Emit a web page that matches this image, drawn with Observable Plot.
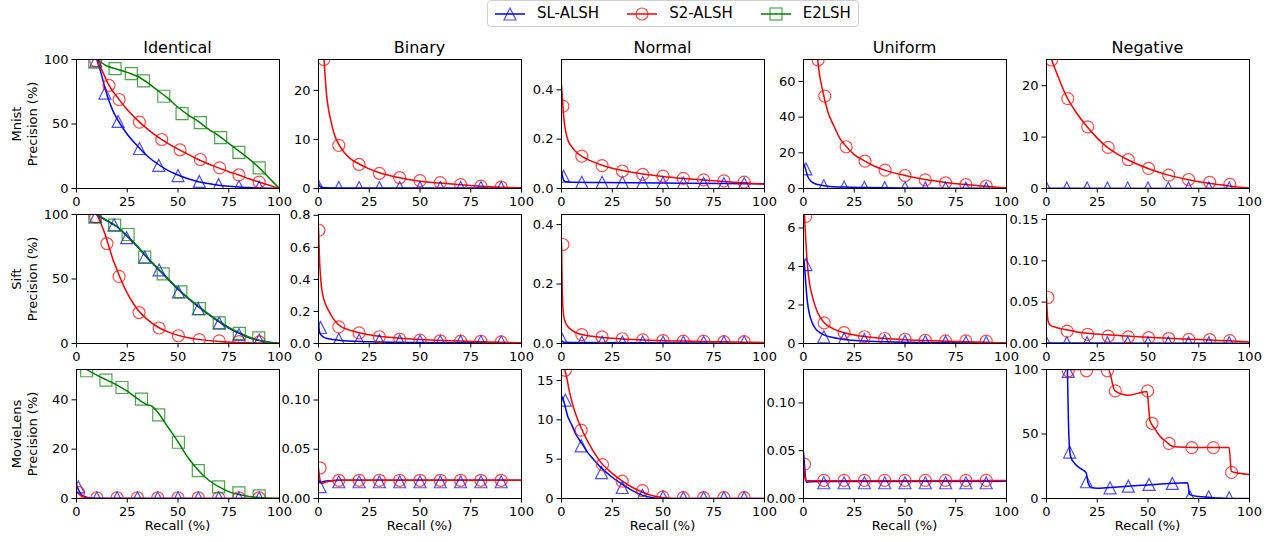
<!DOCTYPE html>
<html><head><meta charset="utf-8">
<script src="https://cdn.jsdelivr.net/npm/d3@7"></script>
<script src="https://cdn.jsdelivr.net/npm/@observablehq/plot@0.6"></script>
<style>
body{margin:0;background:#fff;font-family:"DejaVu Sans",sans-serif;}
#root{position:relative;width:1270px;height:542px;overflow:hidden;background:#fff;}
.t{position:absolute;white-space:nowrap;color:#000;}
.panel{position:absolute;}
</style></head><body><div id="root"></div>
<script>
// ---------- categories / labels ----------
const datasets = ["Mnist", "Sift", "MovieLens"];
const distributions = ["Identical", "Binary", "Normal", "Uniform", "Negative"];
const methods = ["SL-ALSH", "S2-ALSH", "E2LSH"];
const recallTicks = [0, 25, 50, 75, 100];
const xLabel = "Recall (%)";
const yLabel = "Precision (%)";

// y-axis maxima per [dataset][distribution]
const yMaxMnist = [100, 26.3, 0.523, 72.3, 25.1];
const yMaxSift = [100, 0.805, 0.434, 6.7, 0.156];
const yMaxMovie = [52.3, 0.131, 16.4, 0.135, 100];
// y tick labels
const yTicksMnist = [[0, 50, 100], [0, 10, 20], [0, 0.2, 0.4], [0, 20, 40, 60], [0, 10, 20]];
const yTicksSift = [[0, 50, 100], [0, 0.2, 0.4, 0.6, 0.8], [0, 0.2, 0.4], [0, 2, 4, 6], [0, 0.05, 0.10, 0.15]];
const yTicksMovie = [[0, 20, 40], [0, 0.05, 0.10], [0, 5, 10, 15], [0, 0.05, 0.10], [0, 50, 100]];
const yDecMnist = [0, 0, 1, 0, 0];
const yDecSift = [0, 1, 1, 0, 2];
const yDecMovie = [0, 2, 0, 2, 0];

// ---------- Mnist ----------
const mn_id_sl = [[10,100],[12,90],[14,78],[16,68],[18,60],[20,54],[25,42],[30,33],[35,25],[40,19],[45,14],[50,10.5],[55,7.5],[60,5.3],[65,3.8],[70,2.6],[75,1.8],[80,1.2],[85,0.7],[90,0.4],[95,0.2],[100,0]];
const mn_id_sl_m = [[9.5,99],[14,74],[20.5,52],[31,31],[40.5,18],[50,10],[60.5,5.5],[70,3],[80,1.5],[90,1]];
const mn_id_s2 = [[10,100],[13,90],[16,80],[20,71],[25,61],[30,53],[35,46],[40,40],[45,35],[50,30.5],[55,26.5],[60,22.5],[65,19],[70,16],[75,13],[80,10.5],[85,7.5],[90,5],[95,2.5],[100,0]];
const mn_id_s2_m = [[9.5,99],[16,80],[21,69],[31,51.5],[42,38],[51,30],[61,22.5],[70.5,16],[80,10.5],[90,5]];
const mn_id_e2 = [[10,100],[15,95],[20,92.5],[25,90],[30,87],[35,82],[40,76],[45,70],[50,63],[55,57],[60,52],[65,46],[70,41],[75,35],[80,29],[85,23],[90,16],[95,8],[100,0]];
const mn_id_e2_m = [[9,98],[19,93],[27,89],[33,83.5],[43,71.5],[52,58],[61,51],[71,39.5],[80,28],[90,16]];

const mn_bi_sl = [[0,1],[1,0.3],[3,0.15],[10,0.12],[50,0.1],[100,0.08]];
const mn_bi_sl_m = [[0,0.5],[10,0.2],[20,0.2],[30,0.2],[40,0.2],[50,0.2],[60,0.2],[70,0.2],[80,0.2],[90,0.2]];
const mn_bi_s2 = [[2.2,30],[3,24.5],[4,19],[5,16],[6,14],[8,10.8],[10,9],[13,7.2],[16,6],[20,5],[25,4],[30,3.2],[40,2.2],[50,1.5],[60,1.1],[70,0.75],[80,0.45],[90,0.25],[100,0.1]];
const mn_bi_s2_m = [[2.6,26.3],[10,8.8],[20,4.9],[30,3.1],[40,2.2],[50,1.6],[60,1.2],[70,0.8],[80,0.5],[90,0.3]];

const mn_no_sl = [[0,0.07],[0.5,0.05],[1,0.035],[2,0.027],[5,0.025],[20,0.024],[50,0.022],[80,0.02],[100,0.019]];
const mn_no_sl_m = [[1,0.05],[10,0.025],[20,0.025],[30,0.025],[40,0.024],[50,0.023],[60,0.022],[70,0.021],[80,0.02],[90,0.02]];
const mn_no_s2 = [[0,0.42],[0.5,0.36],[1,0.3],[1.5,0.26],[2,0.235],[3,0.2],[5,0.17],[7,0.15],[10,0.13],[15,0.11],[20,0.094],[25,0.082],[30,0.073],[40,0.059],[50,0.049],[60,0.041],[70,0.034],[80,0.028],[90,0.023],[100,0.017]];
const mn_no_s2_m = [[0.7,0.334],[10,0.131],[20,0.093],[30,0.071],[40,0.057],[50,0.05],[60,0.041],[70,0.035],[80,0.031],[90,0.026]];

const mn_un_sl = [[0,14],[1,11],[2,7],[3,5],[5,3],[7,2.2],[10,1.5],[15,1],[20,0.8],[30,0.55],[50,0.35],[70,0.2],[100,0.1]];
const mn_un_sl_m = [[1.2,11],[10,1.5],[20,0.8],[30,0.6],[40,0.5],[50,0.4],[60,0.3],[70,0.3],[80,0.2],[90,0.2]];
const mn_un_s2 = [[6.8,75],[7.5,67],[8.5,60],[10,52],[12,43],[15,35],[18,28],[20,25],[25,19],[30,15.5],[35,12.5],[40,10.3],[50,7.3],[60,5],[70,3.4],[80,2.2],[90,1.2],[100,0.3]];
const mn_un_s2_m = [[7.2,72],[10.5,51.8],[21,23.4],[30.3,15.3],[40.2,10.3],[50,7.3],[60,4.8],[70,3.2],[80,2.2],[90,1.4]];

const mn_ne_sl = [[0,0.05],[100,0.02]];
const mn_ne_sl_m = [[0,0.1],[10,0.1],[20,0.1],[30,0.1],[40,0.1],[50,0.1],[60,0.1],[70,0.1],[80,0.1],[90,0.1]];
const mn_ne_s2 = [[1.5,26.5],[3,24.5],[5,22.5],[7.5,20],[10,17.8],[15,14.6],[20,12],[25,9.8],[30,8],[35,6.7],[40,5.6],[50,3.9],[60,2.6],[70,1.7],[80,1],[90,0.5],[100,0.1]];
const mn_ne_s2_m = [[2.5,25],[10.5,17.5],[20.3,12],[30.4,8],[40.3,5.6],[50.3,3.9],[60.2,2.6],[70,1.75],[80.4,1.2],[90.3,0.8]];

// ---------- Sift ----------
const si_id_sl = [[10,100],[15,95],[20,90.5],[25,83],[30,75],[35,66],[40,58],[45,50],[50,42],[55,35],[60,28.5],[65,22.5],[70,17],[75,12],[80,8],[85,4.5],[90,2.3],[95,1],[100,0]];
const si_id_sl_m = [[9.5,98.5],[18.5,92],[24.7,82],[33.6,67],[40.7,57],[50.2,40],[60,27],[70.3,16],[80,7],[90,2.6]];
const si_id_s2 = [[10,100],[12,93],[14,85],[16,75],[18,65],[20,57],[22,49],[25,39],[28,31],[30,26.5],[35,18.5],[40,12.8],[45,9],[50,6.3],[55,4.5],[60,3.2],[70,1.6],[80,0.8],[90,0.4],[100,0.1]];
const si_id_s2_m = [[9.4,98],[15,77.5],[21,52],[30.8,24],[40.7,12],[50.2,6],[60.5,3],[70.3,2],[80,1.5],[90,1.2]];
const si_id_e2 = [[10,100],[15,95.5],[20,90.5],[25,83.5],[30,75.5],[35,66.5],[40,58.5],[45,50.5],[50,42.5],[55,35.5],[60,29],[65,23],[70,17.5],[75,12.5],[80,8.5],[85,5],[90,2.5],[95,1],[100,0]];
const si_id_e2_m = [[9,98],[18.8,91.7],[25.4,84.5],[33.6,67],[42.7,54],[51.4,40],[60.5,27],[70.3,16],[80.2,7.8],[89.8,4.4]];

const si_bi_sl = [[0,0.135],[0.3,0.09],[0.7,0.065],[1.5,0.05],[3,0.037],[5,0.03],[10,0.021],[15,0.016],[20,0.013],[30,0.009],[50,0.006],[75,0.004],[100,0.002]];
const si_bi_sl_m = [[1,0.1],[10,0.026],[20,0.022],[30,0.019],[40,0.017],[50,0.015],[60,0.014],[70,0.013],[80,0.012],[90,0.011]];
const si_bi_s2 = [[0,0.72],[0.3,0.6],[0.6,0.5],[1,0.42],[1.5,0.35],[2,0.31],[3,0.26],[4,0.23],[5,0.205],[7,0.16],[10,0.115],[15,0.085],[20,0.067],[25,0.055],[30,0.045],[40,0.033],[50,0.025],[60,0.019],[70,0.015],[80,0.011],[90,0.008],[100,0.004]];
const si_bi_s2_m = [[0.2,0.707],[10,0.104],[20,0.066],[30,0.042],[40,0.027],[50,0.021],[60,0.017],[70,0.015],[80,0.014],[90,0.01]];

const si_no_sl = [[0,0.01],[1,0.004],[10,0.003],[100,0.001]];
const si_no_sl_m = [[0.5,0.012],[10,0.005],[20,0.005],[30,0.005],[40,0.005],[50,0.005],[60,0.005],[70,0.005],[80,0.005],[90,0.005]];
const si_no_s2 = [[0,0.34],[0.2,0.25],[0.4,0.17],[0.7,0.12],[1,0.095],[2,0.07],[3,0.058],[5,0.045],[7,0.037],[10,0.03],[15,0.024],[20,0.02],[30,0.015],[40,0.012],[50,0.0095],[60,0.008],[70,0.0065],[80,0.0055],[90,0.0045],[100,0.003]];
const si_no_s2_m = [[0.7,0.333],[10,0.03],[20,0.022],[30,0.016],[40,0.012],[50,0.01],[60,0.008],[70,0.008],[80,0.006],[90,0.006]];

const si_un_sl = [[0,4.45],[0.5,4],[1,3.3],[1.5,2.6],[2,2.1],[3,1.5],[4,1.15],[5,0.92],[7,0.65],[10,0.45],[15,0.3],[20,0.21],[30,0.13],[40,0.09],[50,0.06],[70,0.04],[100,0.02]];
const si_un_sl_m = [[1.2,4.1],[10,0.35],[20,0.25],[30,0.2],[40,0.15],[50,0.12],[60,0.1],[70,0.08],[80,0.07],[90,0.06]];
const si_un_s2 = [[0.4,6.9],[1,5.6],[1.5,4.7],[2,4],[3,3.1],[4,2.6],[5,2.2],[7,1.6],[10,1.1],[15,0.75],[20,0.56],[25,0.44],[30,0.36],[40,0.26],[50,0.2],[60,0.16],[70,0.12],[80,0.09],[90,0.06],[100,0.03]];
const si_un_s2_m = [[1.1,6.6],[10.2,1.07],[20,0.57],[30,0.35],[40,0.26],[50,0.22],[60,0.17],[70,0.14],[80,0.14],[90,0.12]];

const si_ne_sl = [[0,0.0005],[100,0.0002]];
const si_ne_sl_m = [[0,0.001],[10,0.001],[20,0.001],[30,0.001],[40,0.001],[50,0.001],[60,0.001],[70,0.001],[80,0.001],[90,0.001]];
const si_ne_s2 = [[0,0.056],[0.3,0.04],[0.6,0.03],[1,0.025],[2,0.022],[4,0.02],[7,0.018],[10,0.0165],[15,0.014],[20,0.0125],[30,0.0105],[40,0.009],[50,0.0075],[60,0.0063],[70,0.0052],[80,0.0043],[90,0.0033],[100,0.0018]];
const si_ne_s2_m = [[0.7,0.0556],[10.2,0.015],[20.3,0.011],[30.4,0.009],[40.3,0.008],[50.3,0.007],[60.2,0.006],[70.1,0.005],[80.4,0.0048],[90.3,0.0035]];

// ---------- MovieLens ----------
const ml_id_sl = [[0,5.5],[1,3.5],[2,2],[4,0.8],[6,0.3],[10,0.1],[100,0]];
const ml_id_sl_m = [[0.9,4.7],[10,0.3],[20,0.3],[30,0.3],[40,0.3],[50,0.3],[60,0.3],[70,0.3],[80,0.3],[90,0.3]];
const ml_id_s2 = [[0,3],[1,2],[2,1.2],[4,0.4],[6,0.1],[10,0],[100,0]];
const ml_id_s2_m = [[1,2.5],[10,0.3],[20,0.3],[30,0.3],[40,0.3],[50,0.3],[60,0.3],[70,0.3],[80,0.3],[90,0.3]];
const ml_id_e2 = [[3,53.5],[5,52.3],[10,50],[15,48],[20,46],[25,43.5],[30,40.5],[35,38],[37,37.5],[40,35],[45,29],[50,23],[55,16.5],[60,11.5],[65,7.5],[70,4.8],[75,2.8],[80,1.6],[85,0.8],[90,0.4],[95,0.1],[100,0]];
const ml_id_e2_m = [[5,51.8],[14.5,48],[22.4,45],[32,40.3],[40.5,33.9],[50.2,22.8],[60,11.3],[70,4.7],[80,2.3],[90,1.1]];

const ml_bi_sl = [[0,0.019],[0.5,0.017],[1,0.016],[2,0.017],[5,0.018],[10,0.0185],[100,0.0185]];
const ml_bi_sl_m = [[0.8,0.012],[10,0.017],[20,0.017],[30,0.017],[40,0.017],[50,0.017],[60,0.017],[70,0.017],[80,0.017],[90,0.017]];
const ml_bi_s2 = [[0,0.031],[0.5,0.022],[1,0.016],[2,0.0155],[4,0.017],[7,0.018],[10,0.0185],[100,0.0185]];
const ml_bi_s2_m = [[0.8,0.031],[10,0.0185],[20,0.0185],[30,0.0185],[40,0.0185],[50,0.0185],[60,0.0185],[70,0.0185],[80,0.0185],[90,0.0185]];

const ml_no_sl = [[0,13],[1,12.5],[2,11.5],[3,10.5],[4,9.9],[5,9.4],[7,8.2],[10,7],[13,5.8],[15,5.2],[20,3.8],[25,2.7],[30,1.8],[35,1],[40,0.4],[45,0.1],[50,0],[100,0]];
const ml_no_sl_m = [[1.9,12.5],[9.7,6.7],[19.7,3.3],[29.9,1.4],[39.9,0.4],[50,0.2],[60,0.1],[70,0.1],[80,0.1],[90,0.1]];
const ml_no_s2 = [[0,17],[2,16],[4,13.5],[6,11.5],[8,10],[10,8.8],[12,7.7],[15,6.3],[20,4.4],[25,3.2],[30,2.2],[35,1.4],[40,0.8],[45,0.35],[50,0.1],[55,0],[100,0]];
const ml_no_s2_m = [[1.9,16.3],[9.7,8.7],[20.2,4.3],[29.9,2.2],[39.9,1.0],[49.9,0.2],[60,0.1],[70,0.1],[80,0.1],[90,0.1]];

const ml_un_sl = [[0,0.048],[0.5,0.035],[1,0.022],[1.5,0.017],[3,0.0175],[10,0.0178],[100,0.018]];
const ml_un_sl_m = [[10,0.0165],[20,0.0165],[30,0.0165],[40,0.0165],[50,0.0165],[60,0.0165],[70,0.0165],[80,0.0165],[90,0.0165]];
const ml_un_s2 = [[0,0.037],[0.5,0.025],[1,0.019],[2,0.0185],[100,0.0188]];
const ml_un_s2_m = [[0.5,0.036],[10,0.019],[20,0.019],[30,0.019],[40,0.019],[50,0.019],[60,0.019],[70,0.019],[80,0.019],[90,0.019]];

const ml_ne_sl = [[10.3,100],[10.8,60],[11.3,40],[12,32],[14,27],[17,23],[19.5,20],[20.5,12],[22,8.5],[25,8],[35,9],[45,10],[55,11],[65,12],[69.5,12.3],[70.5,3],[75,1.5],[80,1],[85,0.3],[90,0],[100,0]];
const ml_ne_sl_m = [[10.7,98.5],[11.4,36],[19.7,13],[31.3,8.3],[40.3,9.6],[50.5,10.9],[62,11.7],[70.6,1.3],[79.9,1.3],[90,0.5]];
const ml_ne_s2 = [[9.5,100],[20,100],[30.5,100],[33.5,84],[37,81],[40,80],[45,81.5],[49.5,83],[51,60],[53,55],[56,48],[59,44],[62,40.5],[65,40],[80,39.5],[90,39.5],[91,21],[95,19.5],[100,18.5]];
const ml_ne_s2_m = [[10.7,99],[19.7,99],[30,99],[33.9,83.4],[49.8,83.4],[52,58.3],[60.4,42.7],[71.6,39.4],[82.2,39.4],[91.2,20.2]];

// ---------- assemble (references only) ----------
const seriesGrid = [
  [
    [[mn_id_sl, mn_id_sl_m], [mn_id_s2, mn_id_s2_m], [mn_id_e2, mn_id_e2_m]],
    [[mn_bi_sl, mn_bi_sl_m], [mn_bi_s2, mn_bi_s2_m]],
    [[mn_no_sl, mn_no_sl_m], [mn_no_s2, mn_no_s2_m]],
    [[mn_un_sl, mn_un_sl_m], [mn_un_s2, mn_un_s2_m]],
    [[mn_ne_sl, mn_ne_sl_m], [mn_ne_s2, mn_ne_s2_m]]
  ],
  [
    [[si_id_sl, si_id_sl_m], [si_id_s2, si_id_s2_m], [si_id_e2, si_id_e2_m]],
    [[si_bi_sl, si_bi_sl_m], [si_bi_s2, si_bi_s2_m]],
    [[si_no_sl, si_no_sl_m], [si_no_s2, si_no_s2_m]],
    [[si_un_sl, si_un_sl_m], [si_un_s2, si_un_s2_m]],
    [[si_ne_sl, si_ne_sl_m], [si_ne_s2, si_ne_s2_m]]
  ],
  [
    [[ml_id_sl, ml_id_sl_m], [ml_id_s2, ml_id_s2_m], [ml_id_e2, ml_id_e2_m]],
    [[ml_bi_sl, ml_bi_sl_m], [ml_bi_s2, ml_bi_s2_m]],
    [[ml_no_sl, ml_no_sl_m], [ml_no_s2, ml_no_s2_m]],
    [[ml_un_sl, ml_un_sl_m], [ml_un_s2, ml_un_s2_m]],
    [[ml_ne_sl, ml_ne_sl_m], [ml_ne_s2, ml_ne_s2_m]]
  ]
];
const yMaxes = [yMaxMnist, yMaxSift, yMaxMovie];
const yTickSets = [yTicksMnist, yTicksSift, yTicksMovie];
const yDecs = [yDecMnist, yDecSift, yDecMovie];

// ---------- styling / layout ----------
const COLORS = ["#0000ff", "#ff0000", "#008000"];
const FONT = "'DejaVu Sans', sans-serif";
const colLeft = [76, 318, 561, 803, 1046];
const rowTop = [59, 214, 369];
const FW = 203, FH = 129;
const ML = 40, MR = 4, MT = 8, MB = 24;

function sym(kind) {
  return {
    draw(ctx, size) {
      const r = Math.sqrt(size / Math.PI);
      if (kind === "tri") { ctx.moveTo(0, -r); ctx.lineTo(r, r); ctx.lineTo(-r, r); ctx.closePath(); }
      else if (kind === "sq") { ctx.rect(-r, -r, 2 * r, 2 * r); }
      else { ctx.moveTo(r, 0); ctx.arc(0, 0, r, 0, 2 * Math.PI); }
    }
  };
}
const SYMS = [sym("tri"), sym("circ"), sym("sq")];

const root = document.getElementById("root");

function addText(txt, css) {
  const d = document.createElement("div");
  d.className = "t";
  d.textContent = txt;
  Object.assign(d.style, css);
  root.appendChild(d);
  return d;
}

for (let r = 0; r < 3; r++) {
  for (let c = 0; c < 5; c++) {
    const series = seriesGrid[r][c];
    const marks = [];
    series.forEach(([line, pts], i) => {
      marks.push(Plot.line(line, {x: d => d[0], y: d => d[1], stroke: COLORS[i], strokeWidth: 1.5, curve: "monotone-x", clip: true}));
    });
    series.forEach(([line, pts], i) => {
      marks.push(Plot.dot(pts, {x: d => d[0], y: d => d[1], symbol: SYMS[i], r: 6, stroke: COLORS[i], strokeWidth: 1.2, strokeOpacity: 0.7, fill: "none", clip: true}));
    });
    marks.push(Plot.frame({stroke: "#000", strokeWidth: 1}));
    const dec = yDecs[r][c];
    const chart = Plot.plot({
      width: ML + FW + MR, height: MT + FH + MB,
      marginLeft: ML, marginRight: MR, marginTop: MT, marginBottom: MB,
      x: {domain: [0, 100], ticks: recallTicks, tickSize: 4.5, tickPadding: 3.5, label: null, tickFormat: d3.format("d")},
      y: {domain: [0, yMaxes[r][c]], ticks: yTickSets[r][c], tickSize: 4.5, tickPadding: 3.5, label: null, tickFormat: d3.format("." + dec + "f")},
      style: {fontFamily: FONT, fontSize: "13px", color: "#000", background: "transparent", overflow: "visible"},
      marks
    });
    chart.classList.add("panel");
    chart.style.left = (colLeft[c] - ML) + "px";
    chart.style.top = (rowTop[r] - MT) + "px";
    root.appendChild(chart);
  }
}

// column titles
distributions.forEach((name, c) => {
  addText(name, {left: (colLeft[c] + FW / 2) + "px", top: "38px", transform: "translateX(-50%)", fontSize: "16px", lineHeight: "19px", fontFamily: FONT});
});
// row labels
datasets.forEach((name, r) => {
  const d = document.createElement("div");
  d.className = "t";
  const a = document.createElement("div"); a.textContent = name;
  const b = document.createElement("div"); b.textContent = yLabel;
  d.appendChild(a); d.appendChild(b);
  Object.assign(d.style, {left: "25px", top: (rowTop[r] + FH / 2) + "px", transform: "translate(-50%,-50%) rotate(-90deg)", fontSize: "13px", lineHeight: "16px", textAlign: "center", fontFamily: FONT});
  root.appendChild(d);
});
// x labels
colLeft.forEach(x0 => {
  addText(xLabel, {left: (x0 + FW / 2) + "px", top: "518px", transform: "translateX(-50%)", fontSize: "13px", lineHeight: "15px", fontFamily: FONT});
});

// legend (drawn swatches)
const leg = document.createElement("div");
Object.assign(leg.style, {position: "absolute", left: "487px", top: "0px", border: "1px solid #d0d0d0", borderRadius: "4px", padding: "3px 7px", display: "flex", alignItems: "center", background: "rgba(255,255,255,0.8)", fontFamily: FONT, fontSize: "15px", lineHeight: "19px"});
methods.forEach((m, i) => {
  const item = document.createElement("div");
  Object.assign(item.style, {display: "flex", alignItems: "center", marginLeft: i ? "28px" : "0"});
  const shape = i === 0 ? '<path d="M15,2 L21,14 L9,14 Z"/>' : i === 1 ? '<circle cx="15" cy="8" r="6"/>' : '<rect x="9" y="2" width="12" height="12"/>';
  item.innerHTML = `<svg width="30" height="16" style="display:block"><line x1="0" y1="8" x2="30" y2="8" stroke="${COLORS[i]}" stroke-width="1.5"/><g fill="none" stroke="${COLORS[i]}" stroke-width="1.2" stroke-opacity="0.7">${shape}</g></svg><span style="margin-left:12px">${m}</span>`;
  leg.appendChild(item);
});
root.appendChild(leg);
</script></body></html>
